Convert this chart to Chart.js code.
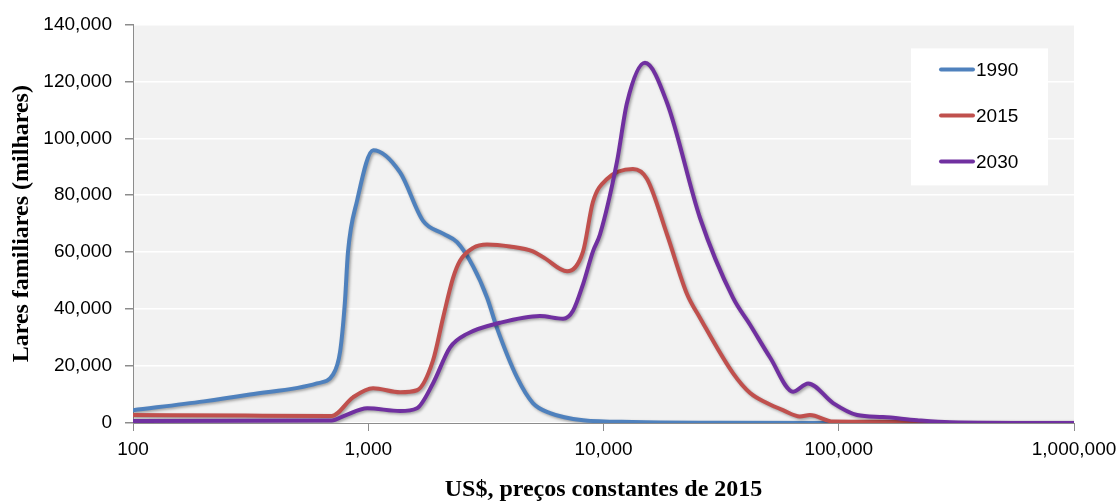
<!DOCTYPE html>
<html>
<head>
<meta charset="utf-8">
<script src="https://cdn.jsdelivr.net/npm/chart.js@4"></script>
<style>
  html, body { margin: 0; padding: 0; background: #fff; }
  #wrap { width: 1117px; height: 502px; }
</style>
</head>
<body>
<div id="wrap"><canvas id="incomeChart" width="1117" height="502"></canvas></div>
<script>
// rendimento (US$, preços constantes de 2015) e lares (milhares)
const income1990 = [100, 200, 314, 605, 708, 759, 795, 820, 896, 1050, 1365, 1710, 2080, 2385, 2790, 3200, 3520, 4290, 5010, 5930, 8190, 13300, 30000, 100000, 1000000];
const homes1990  = [4500, 7600, 10000, 13900, 17000, 25000, 42000, 60000, 78000, 95800, 88000, 71000, 66500, 63500, 55000, 44000, 33500, 16000, 7000, 3500, 1000, 350, 100, 0, 0];

const income2015 = [100, 300, 700, 861, 1048, 1365, 1611, 1884, 2080, 2292, 2455, 2790, 3200, 4000, 5010, 5600, 7000, 8190, 9020, 10350, 13340, 15310, 18620, 22640, 25720, 35500, 42000, 49500, 57900, 68400, 75400, 94600, 154000, 300000, 1000000];
const homes2015  = [2800, 2600, 2500, 9000, 12200, 10800, 11500, 21900, 37000, 50900, 57000, 61500, 62700, 62000, 60300, 58000, 53300, 60300, 77700, 85700, 89200, 85700, 66200, 45300, 36900, 17500, 10500, 7000, 4500, 2300, 2800, 500, 400, 0, 0];

const income2030 = [100, 700, 790, 990, 1365, 1611, 1884, 2225, 2630, 3630, 5370, 6730, 7420, 8190, 9020, 9660, 11400, 12590, 15000, 18620, 25720, 35500, 41970, 51050, 63970, 74100, 94600, 119700, 154000, 215000, 297000, 1000000];
const homes2030  = [700, 900, 2500, 5200, 4200, 5200, 13900, 26500, 31300, 35200, 37600, 36600, 39400, 48800, 60300, 66200, 91600, 112500, 126500, 112500, 72000, 44000, 34500, 23000, 11000, 13900, 7000, 2800, 2100, 1000, 300, 0];

const seriesLabels = ['1990', '2015', '2030'];
const xTicks = [100, 1000, 10000, 100000, 1000000];

function toPoints(xs, ys) {
  return xs.map((x, i) => ({ x: x, y: ys[i] }));
}

const plotBackground = {
  id: 'plotBackground',
  beforeDraw(chart) {
    const { ctx, chartArea } = chart;
    ctx.save();
    ctx.fillStyle = '#f2f2f2';
    ctx.fillRect(chartArea.left, chartArea.top, chartArea.right - chartArea.left, chartArea.bottom - chartArea.top);
    ctx.restore();
  }
};

const lineShadow = {
  id: 'lineShadow',
  beforeDatasetDraw(chart) {
    const ctx = chart.ctx;
    ctx.save();
    ctx.shadowColor = 'rgba(0,0,0,0.35)';
    ctx.shadowBlur = 3;
    ctx.shadowOffsetX = 1.5;
    ctx.shadowOffsetY = 1.5;
  },
  afterDatasetDraw(chart) {
    chart.ctx.restore();
  }
};

// caixa de legenda dentro da área do gráfico
const boxLegend = {
  id: 'boxLegend',
  afterDraw(chart) {
    const { ctx, chartArea } = chart;
    const x0 = chartArea.right - 163;
    const y0 = chartArea.top + 24;
    ctx.save();
    ctx.fillStyle = '#ffffff';
    ctx.fillRect(x0, y0, 137, 137);
    chart.data.datasets.forEach((ds, i) => {
      const y = y0 + 21 + i * 46;
      ctx.strokeStyle = ds.borderColor;
      ctx.lineWidth = 4;
      ctx.lineCap = 'round';
      ctx.beginPath();
      ctx.moveTo(x0 + 30, y);
      ctx.lineTo(x0 + 62, y);
      ctx.stroke();
      ctx.fillStyle = '#000';
      ctx.font = '19px "Liberation Sans", Arial, sans-serif';
      ctx.textBaseline = 'middle';
      ctx.fillText(ds.label, x0 + 65, y + 1);
    });
    ctx.restore();
  }
};

const data_income = {
  datasets: [
    { label: seriesLabels[0], data: toPoints(income1990, homes1990), borderColor: '#4f81bd', order: 3 },
    { label: seriesLabels[1], data: toPoints(income2015, homes2015), borderColor: '#c0504d', order: 2 },
    { label: seriesLabels[2], data: toPoints(income2030, homes2030), borderColor: '#7030a0', order: 1 }
  ]
};

const tickFont = { family: '"Liberation Sans", Arial, sans-serif', size: 19 };
const titleFont = { family: '"Liberation Serif", "Times New Roman", serif', size: 24, weight: 'bold', lineHeight: 1 };

const config_income = {
  type: 'line',
  data: data_income,
  options: {
    responsive: false,
    animation: false,
    layout: { padding: { left: 0, top: 21, right: 43, bottom: 0 } },
    elements: {
      point: { radius: 0 },
      line: { borderWidth: 4, cubicInterpolationMode: 'monotone', borderCapStyle: 'round', fill: false }
    },
    plugins: {
      legend: { display: false },
      tooltip: { enabled: false }
    },
    scales: {
      x: {
        type: 'logarithmic',
        min: 100,
        max: 1000000,
        afterBuildTicks: (scale) => { scale.ticks = xTicks.map(v => ({ value: v })); },
        afterFit: (scale) => {
          scale.height = 79;
          scale.paddingLeft = 0;
          scale.paddingRight = 0;
        },
        ticks: {
          color: '#000',
          font: tickFont,
          maxRotation: 0,
          autoSkip: false,
          padding: 7,
          callback: (v) => Number(v).toLocaleString('en-US')
        },
        grid: { drawOnChartArea: false, tickLength: 8, color: '#8c8c8c' },
        border: { color: '#8c8c8c', width: 1 },
        title: {
          display: true,
          text: 'US$, preços constantes de 2015',
          color: '#000',
          font: titleFont,
          padding: { top: 0, bottom: 0 }
        }
      },
      y: {
        min: 0,
        max: 140000,
        afterFit: (scale) => { scale.width = 133; },
        ticks: {
          stepSize: 20000,
          color: '#000',
          font: tickFont,
          padding: 13,
          callback: (v) => Number(v).toLocaleString('en-US')
        },
        grid: { color: '#ffffff', lineWidth: 1.5, tickLength: 8, tickColor: '#8c8c8c' },
        border: { color: '#8c8c8c', width: 1 },
        title: {
          display: true,
          text: 'Lares familiares (milhares)',
          color: '#000',
          font: titleFont,
          padding: { top: 10, bottom: 0 }
        }
      }
    }
  },
  plugins: [plotBackground, lineShadow, boxLegend]
};

const chart_income = new Chart(
  document.getElementById('incomeChart').getContext('2d'),
  config_income
);
</script>
</body>
</html>
